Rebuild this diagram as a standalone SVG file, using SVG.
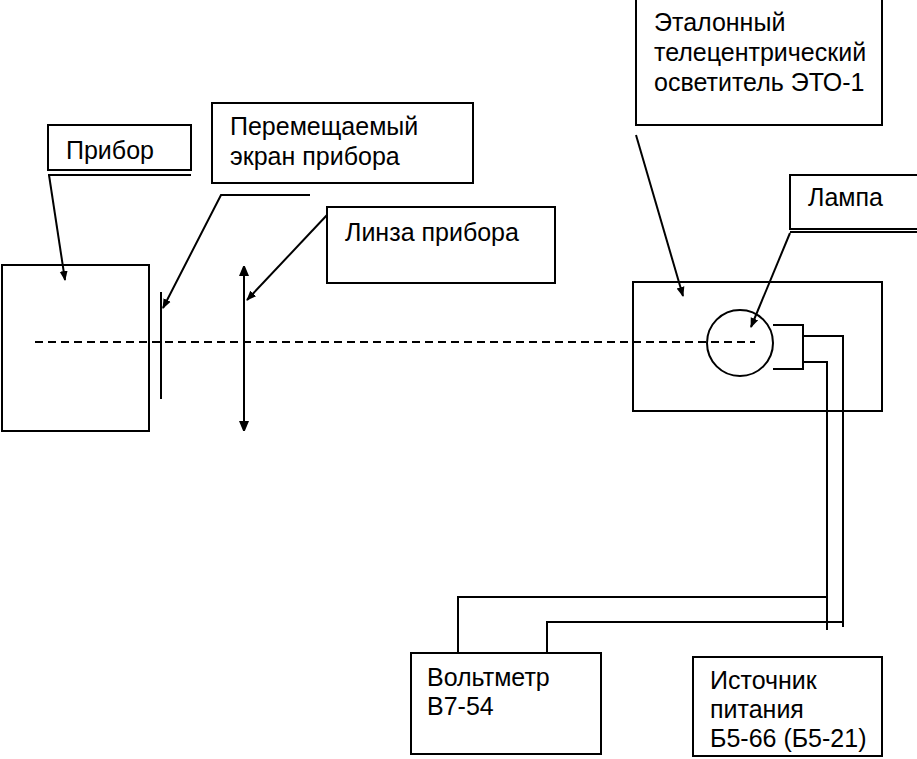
<svg xmlns="http://www.w3.org/2000/svg" width="917" height="759" viewBox="0 0 917 759">
<defs>
<marker id="ah" markerWidth="10" markerHeight="10" refX="9" refY="5" orient="auto" markerUnits="userSpaceOnUse"><path d="M0,1 L10,5 L0,9 Z" fill="#000"/></marker>
<marker id="as" markerWidth="10" markerHeight="12" refX="9" refY="6" orient="auto-start-reverse" markerUnits="userSpaceOnUse"><path d="M0,1 L12,6 L0,11 Z" fill="#000"/></marker>
</defs>
<style>
.b,circle{fill:#fff;stroke:#000;stroke-width:2}
line,polyline{stroke:#000;stroke-width:2;fill:none}
text{font-family:"Liberation Sans",Arial,sans-serif;font-size:25px;fill:#000}
</style>
<rect width="917" height="759" fill="#fff"/>
<g id="pribor"><rect class="b" x="2" y="265" width="147" height="166"/></g>
<g id="pribor-label"><rect class="b" x="48" y="125" width="143" height="45"/><line x1="48" y1="175" x2="191" y2="175"/><text x="66" y="159">Прибор</text></g>
<g id="screen"><line x1="161" y1="292" x2="161" y2="399"/></g>
<g id="screen-label"><rect class="b" x="212" y="103" width="261" height="80"/><text x="230" y="135">Перемещаемый</text><text x="230" y="165">экран прибора</text></g>
<g id="lens"><line x1="244" y1="267" x2="244" y2="430" marker-start="url(#as)" marker-end="url(#as)"/></g>
<g id="lens-label"><rect class="b" x="327" y="207" width="228" height="76"/><text x="345" y="241">Линза прибора</text></g>
<g id="eto-label"><rect class="b" x="636" y="-2" width="246" height="127"/><text x="654" y="31">Эталонный</text><text x="654" y="61">телецентрический</text><text x="654" y="91">осветитель ЭТО-1</text></g>
<g id="eto"><rect class="b" x="633" y="282" width="249" height="129"/></g>
<g id="lamp"><circle cx="740" cy="343" r="33"/><polyline points="773,325 803,325 803,369 773,369"/></g>
<g id="lamp-label"><rect class="b" x="790" y="175" width="129" height="54"/><line x1="790" y1="232" x2="917" y2="232"/><text x="808" y="206">Лампа</text></g>
<g id="voltmeter"><rect class="b" x="411" y="653" width="190" height="101"/><text x="427" y="686">Вольтметр</text><text x="427" y="715">В7-54</text></g>
<g id="source"><rect class="b" x="693" y="657" width="189" height="99"/><text x="710" y="689">Источник</text><text x="710" y="718">питания</text><text x="710" y="747">Б5-66 (Б5-21)</text></g>
<g id="connectors">
<line x1="35" y1="342" x2="755" y2="342" stroke-dasharray="8,5"/>
<line x1="49" y1="175" x2="65" y2="280" marker-end="url(#ah)"/>
<polyline points="310,195 221,195 163,308" marker-end="url(#ah)"/>
<line x1="327" y1="215" x2="247" y2="300" marker-end="url(#ah)"/>
<line x1="636" y1="135" x2="683" y2="296" marker-end="url(#ah)"/>
<line x1="790" y1="233" x2="751" y2="327" marker-end="url(#ah)"/>
<polyline points="803,336 843,336 843,627"/>
<polyline points="803,362 827,362 827,630"/>
<polyline points="827,597 458,597 458,653"/>
<polyline points="843,622 547,622 547,653"/>
</g>
</svg>
